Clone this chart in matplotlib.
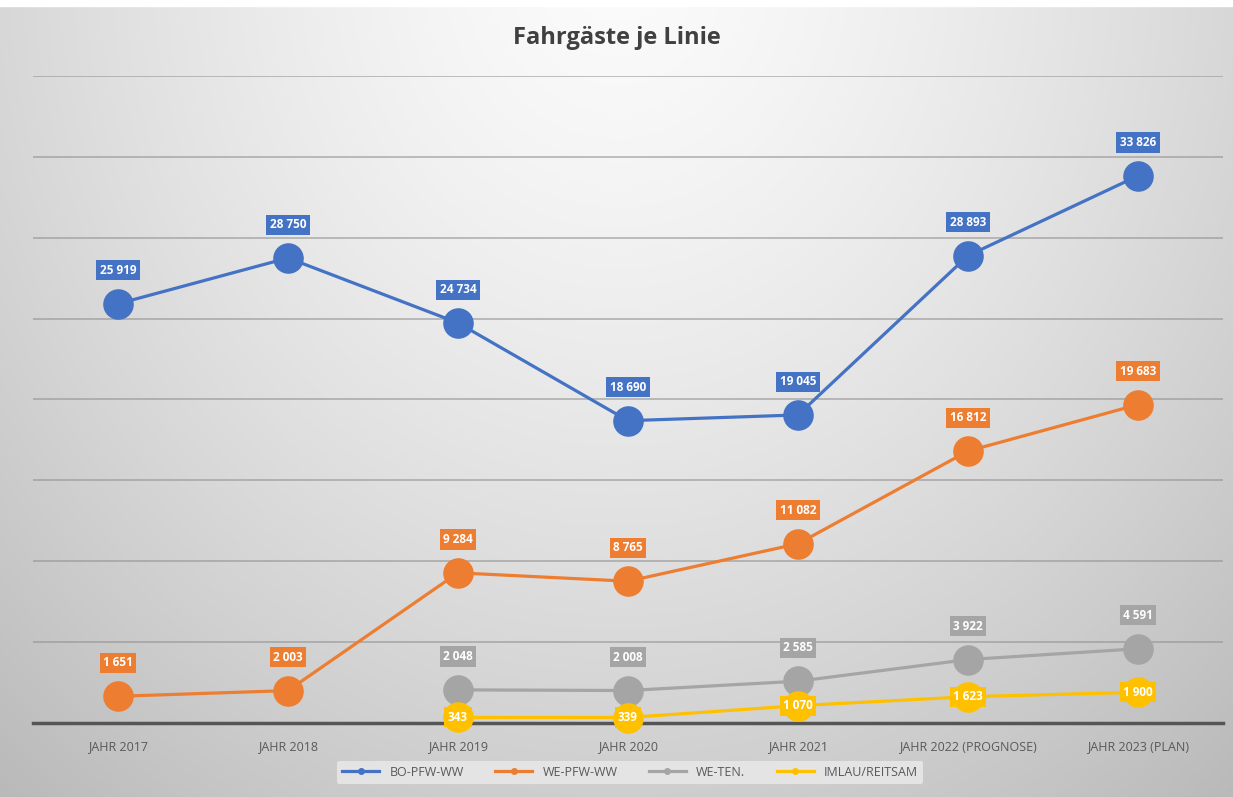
import numpy as np
import matplotlib
matplotlib.use("Agg")
import matplotlib.pyplot as plt
from matplotlib.lines import Line2D

categories = ["JAHR 2017", "JAHR 2018", "JAHR 2019", "JAHR 2020", "JAHR 2021",
              "JAHR 2022 (PROGNOSE)", "JAHR 2023 (PLAN)"]
bo_pfw_ww = [25919, 28750, 24734, 18690, 19045, 28893, 33826]
we_pfw_ww = [1651, 2003, 9284, 8765, 11082, 16812, 19683]
we_ten = [np.nan, np.nan, 2048, 2008, 2585, 3922, 4591]
imlau_reitsam = [np.nan, np.nan, 343, 339, 1070, 1623, 1900]

series_names = ["BO-PFW-WW", "WE-PFW-WW", "WE-TEN.", "IMLAU/REITSAM"]
series_vals = [bo_pfw_ww, we_pfw_ww, we_ten, imlau_reitsam]
colors = ["#4472C4", "#ED7D31", "#A5A5A5", "#FFC000"]

plt.rcParams['font.family'] = ['Open Sans', 'DejaVu Sans']

fig = plt.figure(figsize=(12.33, 7.97), dpi=100)

# background gradient
bg = fig.add_axes([0, 0, 1, 1], zorder=-10)
h, w = 400, 620
yy, xx = np.mgrid[0:h, 0:w]
cx, cy = w * 0.5, -h * 0.05
d = np.sqrt(((xx - cx) / (w * 0.62)) ** 2 + ((yy - cy) / (h * 1.1)) ** 2)
val = 0.985 - 0.19 * np.clip(d, 0, 1.3) ** 1.4
img = np.dstack([val, val, val])
bg.imshow(img, aspect='auto', extent=[0, 1, 0, 1], origin='upper')
bg.set_xlim(0, 1); bg.set_ylim(0, 1)
bg.axis('off')
# top white strip
bg.add_patch(plt.Rectangle((0, 0.993), 1, 0.007, color='white', transform=bg.transAxes))

ax = fig.add_axes([33 / 1233, 1 - 723 / 797, 1190 / 1233, (723 - 76) / 797])
ax.patch.set_alpha(0)
x = np.arange(len(categories))
ax.set_xlim(-0.5, len(categories) - 0.5)
ax.set_ylim(0, 40000)
ax.set_yticks(np.arange(5000, 40001, 5000))
ax.yaxis.grid(True, color='#909090', linewidth=1.3, alpha=0.6)
ax.set_axisbelow(True)
ax.tick_params(axis='y', left=False, labelleft=False)
for s in ['top', 'right', 'left']:
    ax.spines[s].set_visible(False)
ax.spines['bottom'].set_color('#555555')
ax.spines['bottom'].set_linewidth(2.5)
ax.set_xticks(x)
ax.set_xticklabels(categories, fontsize=9, color='#595959')
ax.tick_params(axis='x', length=0, pad=12)

def fmt(v):
    return f"{int(v):,}".replace(",", " ")

for name, vals, c in zip(series_names, series_vals, colors):
    ax.plot(x, vals, color=c, linewidth=2.3, marker='o', markersize=21,
            clip_on=False, zorder=3)
    for xi, v in zip(x, vals):
        if np.isnan(v):
            continue
        off = 0 if name == "IMLAU/REITSAM" else 24
        ax.annotate(fmt(v), (xi, v), xytext=(0, off), textcoords='offset points',
                    ha='center', va='center', fontsize=8.5, fontweight='bold',
                    color='white', zorder=5, annotation_clip=False,
                    bbox=dict(boxstyle='square,pad=0.3', fc=c, ec='none'))

fig.text(0.5, 1 - 38 / 797, "Fahrgäste je Linie", ha='center', va='center',
         fontsize=17, fontweight='bold', color='#404040')

handles = [Line2D([0], [0], color=c, linewidth=2.3, marker='o', markersize=4)
           for c in colors]
leg = fig.legend(handles, series_names, loc='center', ncol=4,
                 bbox_to_anchor=(630 / 1233, 1 - 772 / 797), frameon=True,
                 fontsize=9, handlelength=3, columnspacing=2.5,
                 labelcolor='#595959')
leg.get_frame().set_facecolor('#e4e4e4')
leg.get_frame().set_edgecolor('none')
leg.get_frame().set_alpha(1)

fig.savefig("out.png", dpi=100)
